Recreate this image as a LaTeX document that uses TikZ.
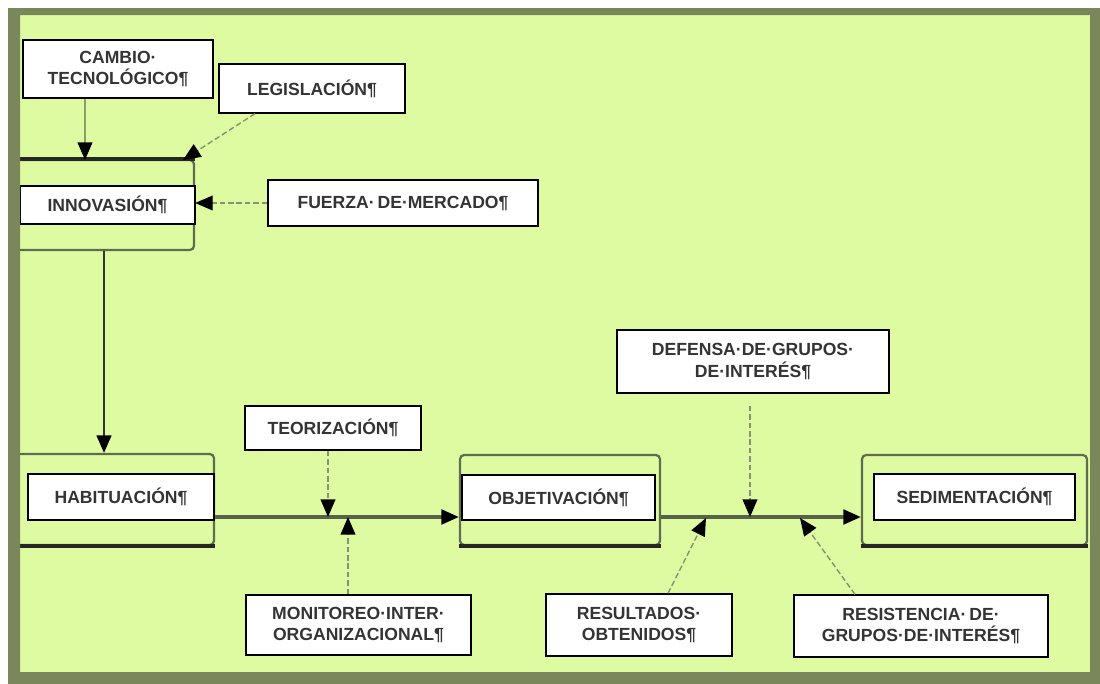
\documentclass[tikz,border=0pt]{standalone}
\usepackage{fontspec}
\setmainfont{Liberation Sans}
\usetikzlibrary{arrows.meta}
\definecolor{bggreen}{RGB}{223,251,162}
\definecolor{olive}{RGB}{122,135,90}
\definecolor{stageline}{RGB}{95,108,78}
\definecolor{flowline}{RGB}{88,98,72}
\definecolor{dashline}{RGB}{135,146,115}
\definecolor{txt}{RGB}{52,52,52}
\tikzset{
  factor/.style={draw=black, fill=white, line width=0.9pt, inner sep=0pt,
    align=center, text=txt, font=\fontsize{12.5}{15.5}\selectfont\bfseries},
  stage/.style={draw=stageline, line width=1.6pt, rounded corners=3pt, inner sep=0pt},
  stagebase/.style={draw=black!85, line width=2.8pt},
  tip/.style={-{Triangle[length=12.5pt,width=10.5pt,black]}},
  flow/.style={tip, draw=flowline, line width=2.2pt},
  influence/.style={tip, draw=dashline, line width=1pt, dash pattern=on 4pt off 2pt},
}
\begin{document}
\begin{tikzpicture}[x=0.025cm,y=-0.025cm]
    % fondo
    \fill[white] (0,0) rectangle (1100,684);
    \fill[bggreen] (20,15) rectangle (1090,672);
    % etapas
    \node[stage, minimum width=4.5cm, minimum height=2.25cm] (fInnov) at (104,205) {};
    \node[stage, minimum width=5cm, minimum height=2.275cm] (fHabit) at (114,499.5) {};
    \node[stage, minimum width=5cm, minimum height=2.25cm] (fObjet) at (560,500) {};
    \node[stage, minimum width=5.625cm, minimum height=2.25cm] (fSedim) at (974.5,500) {};
    \draw[stagebase] (fInnov.north west) -- (fInnov.north east);
    \draw[stagebase] (fHabit.south west) -- (fHabit.south east);
    \draw[stagebase] (fObjet.south west) -- (fObjet.south east);
    \draw[stagebase] (fSedim.south west) -- (fSedim.south east);
    % puntos de entrada
    \coordinate (jCambio) at (85,160);
    \coordinate (jLegis) at (183,160);
    \coordinate (jTeor) at (328,517);
    \coordinate (jMonit) at (348,517);
    \coordinate (jResul) at (706,518);
    \coordinate (jDef) at (750,517);
    \coordinate (jResist) at (800,518);
    % flujo principal
    \draw[flow, draw=black!80, line width=1.6pt] (fInnov.south) -- (fInnov.south |- fHabit.north);
    \draw[flow] (fHabit.east |- jTeor) -- (fObjet.west |- jTeor);
    \draw[flow] (fObjet.east |- jDef) -- (fSedim.west |- jDef);
    % factores
    \node[factor, minimum width=4.75cm, minimum height=1.45cm] (cambio) at (118,69) {CAMBIO·\\TECNOLÓGICO¶};
    \node[factor, minimum width=4.65cm, minimum height=1.225cm] (legis) at (312,88.5) {LEGISLACIÓN¶};
    \node[factor, minimum width=4.375cm, minimum height=0.95cm] (innov) at (107.5,205) {INNOVASIÓN¶};
    \node[factor, minimum width=6.75cm, minimum height=1.15cm] (fuerza) at (403,203) {FUERZA·\,DE·MERCADO¶};
    \node[factor, minimum width=4.65cm, minimum height=1.15cm] (habit) at (121,497) {HABITUACIÓN¶};
    \node[factor, minimum width=4.4cm, minimum height=1.1cm] (teor) at (333,428) {TEORIZACIÓN¶};
    \node[factor, minimum width=5.625cm, minimum height=1.5cm] (monit) at (358.5,625) {MONITOREO·INTER·\\ORGANIZACIONAL¶};
    \node[factor, minimum width=4.825cm, minimum height=1.125cm] (objet) at (558.5,497.5) {OBJETIVACIÓN¶};
    \node[factor, minimum width=6.8cm, minimum height=1.575cm] (defensa) at (753,361.5) {DEFENSA·DE·GRUPOS·\\DE·INTERÉS¶};
    \node[factor, minimum width=5.025cm, minimum height=1.15cm] (sedim) at (974.5,497) {SEDIMENTACIÓN¶};
    \node[factor, minimum width=4.65cm, minimum height=1.55cm] (resul) at (639,625) {RESULTADOS·\\OBTENIDOS¶};
    \node[factor, minimum width=6.35cm, minimum height=1.55cm] (resist) at (921,626) {RESISTENCIA·\,DE·\\GRUPOS·DE·INTERÉS¶};
    % influencias
    \draw[tip, draw=stageline, line width=1pt] ([xshift=-0.825cm]cambio.south) -- (jCambio);
    \draw[influence] ([xshift=-1.425cm]legis.south) -- (jLegis);
    \draw[influence] (fuerza.west) -- (fInnov.east |- fuerza.west);
    \draw[influence] (teor.south -| jTeor) -- (jTeor);
    \draw[influence] (monit.north -| jMonit) -- (jMonit);
    \draw[influence] ([yshift=-0.3cm]defensa.south -| jDef) -- (jDef);
    \draw[influence] ([xshift=0.725cm]resul.north) -- (jResul);
    \draw[influence] ([xshift=-1.65cm]resist.north) -- (jResist);
    % marco
    \fill[olive, even odd rule] (8,8) rectangle (1100,684) (20,15) rectangle (1090,672);
\end{tikzpicture}
\end{document}
